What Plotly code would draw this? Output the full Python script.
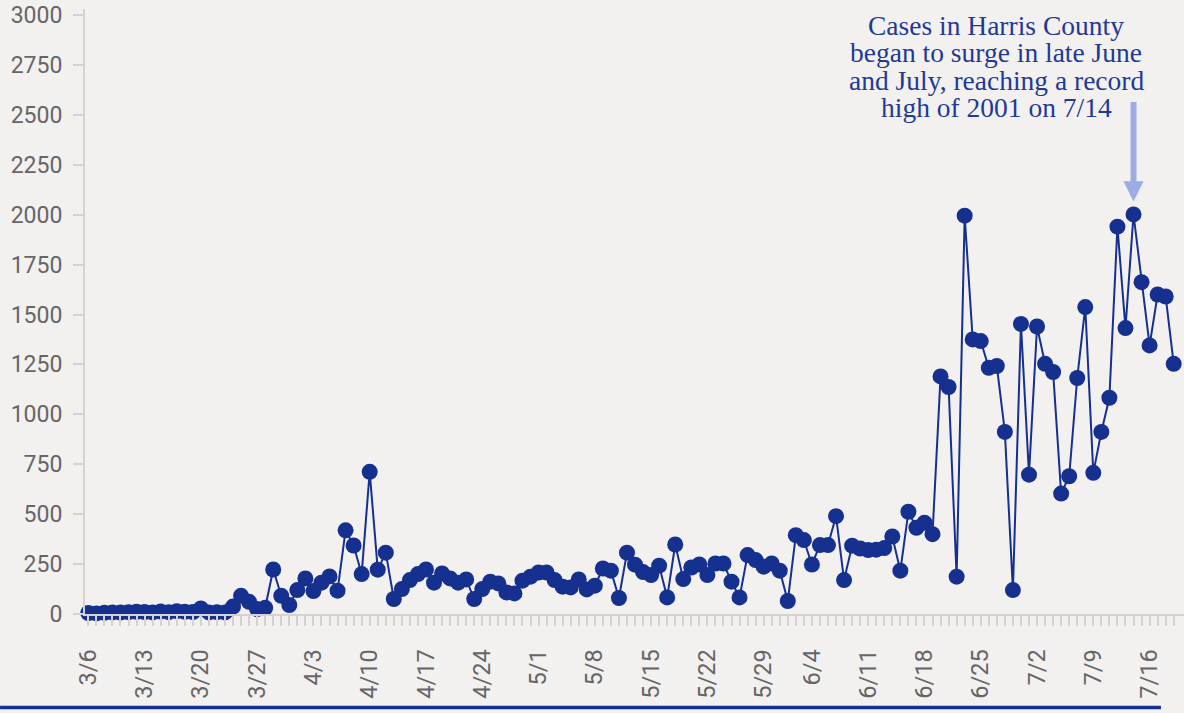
import pandas as pd
import plotly.graph_objects as go

# ---- data ----
dates = [d.strftime("%-m/%-d") for d in pd.date_range("2020-03-06", "2020-07-19", freq="D")]

cases = [
    5, 3, 6, 8, 7, 9, 11, 10, 8, 12, 9, 14, 11, 10,          # 3/6 - 3/19
    28, 8, 9, 8, 37, 91, 61, 25, 31, 223, 91, 45, 120, 178,  # 3/20 - 4/2
    115, 157, 188, 117, 419, 343, 200, 712, 222, 307, 75, 125, 170, 200,  # 4/3 - 4/16
    223, 157, 203, 178, 157, 173, 75, 125, 162, 153, 108, 103, 167, 187,  # 4/17 - 4/30
    208, 208, 170, 137, 133, 173, 123, 142, 228, 217, 80, 307, 247, 210,  # 5/1 - 5/14
    195, 242, 83, 348, 175, 233, 248, 195, 253, 253, 162, 83, 295, 270,   # 5/15 - 5/28
    237, 253, 217, 65, 395, 370, 248, 345, 345, 490, 170, 342, 328, 320,  # 5/29 - 6/11
    322, 330, 388, 217, 512, 432, 457, 400, 1190, 1137, 187, 1995, 1375, 1367,  # 6/12 - 6/25
    1233, 1242, 912, 120, 1453, 698, 1440, 1253, 1212, 603, 690, 1182, 1537, 707,  # 6/26 - 7/9
    912, 1083, 1940, 1432, 2001, 1662, 1345, 1600, 1590, 1253,  # 7/10 - 7/19
]

tick_labels = ["3/6", "3/13", "3/20", "3/27", "4/3", "4/10", "4/17", "4/24", "5/1",
               "5/8", "5/15", "5/22", "5/29", "6/4", "6/11", "6/18", "6/25", "7/2",
               "7/9", "7/16"]
y_ticks = list(range(0, 3001, 250))

note_lines = ["Cases in Harris County", "began to surge in late June",
              "and July, reaching a record", "high of 2001 on 7/14"]
peak_date = "7/14"
peak_value = 2001

# ---- style ----
NAVY = "#15308F"
TEXT_NAVY = "#1F3A95"
ARROW = "#9BADE2"
BG = "#F3F0F0"
GRAY_TXT = "#666666"
AXIS_GRAY = "#D6D2D2"

fig = go.Figure()
fig.add_trace(go.Scatter(
    x=dates, y=cases, mode="lines+markers",
    line=dict(color=NAVY, width=2),
    marker=dict(color=NAVY, size=16),
    cliponaxis=False,
    hoverinfo="x+y",
))

fig.update_layout(
    width=1184, height=713,
    paper_bgcolor=BG, plot_bgcolor=BG,
    margin=dict(l=85, r=0, t=9, b=99),
    showlegend=False,
    font=dict(family="Roboto", color=GRAY_TXT),
)

fig.update_xaxes(
    type="category",
    tickmode="array",
    tickvals=dates,
    ticktext=[d if d in tick_labels else "" for d in dates],
    tickangle=-90,
    tickfont=dict(family="Roboto", size=23.5, color=GRAY_TXT),
    ticks="outside", ticklen=10, tickwidth=2, tickcolor=AXIS_GRAY,
    ticklabelstandoff=14,
    showline=True, linecolor=AXIS_GRAY, linewidth=2,
    showgrid=False, zeroline=False,
    range=[-0.41, 136.28],
)

fig.update_yaxes(
    tickmode="array", tickvals=y_ticks,
    tickfont=dict(family="Roboto", size=23, color=GRAY_TXT),
    ticks="outside", ticklen=10, tickwidth=2, tickcolor=AXIS_GRAY,
    ticklabelstandoff=6,
    showline=True, linecolor=AXIS_GRAY, linewidth=2,
    showgrid=False, zeroline=False,
    range=[0, 3030],
)

# arrow pointing at the record
fig.add_annotation(
    x=peak_date, y=peak_value, xref="x", yref="y",
    ax=0, ay=-114, axref="pixel", ayref="pixel",
    showarrow=True, arrowhead=2, arrowwidth=6, arrowsize=0.67,
    arrowcolor=ARROW, standoff=13, text="",
)

# note text, one annotation per line
line_y = [0.973, 0.9273, 0.8821, 0.8364]
for txt, yy in zip(note_lines, line_y):
    fig.add_annotation(
        x=0.829, y=yy, xref="paper", yref="paper",
        xanchor="center", yanchor="middle",
        text=txt, showarrow=False,
        font=dict(family="Liberation Serif", size=27.5, color=TEXT_NAVY),
    )

# bottom rule
fig.add_shape(
    type="line", xref="paper", yref="paper",
    x0=-0.0773, x1=0.979, y0=-0.1545, y1=-0.1545,
    line=dict(color=NAVY, width=3.5),
)

fig.write_html(
    "out.html",
    config={"displayModeBar": False},
    post_script="document.body.style.margin='0px';document.body.style.overflow='hidden';",
)
